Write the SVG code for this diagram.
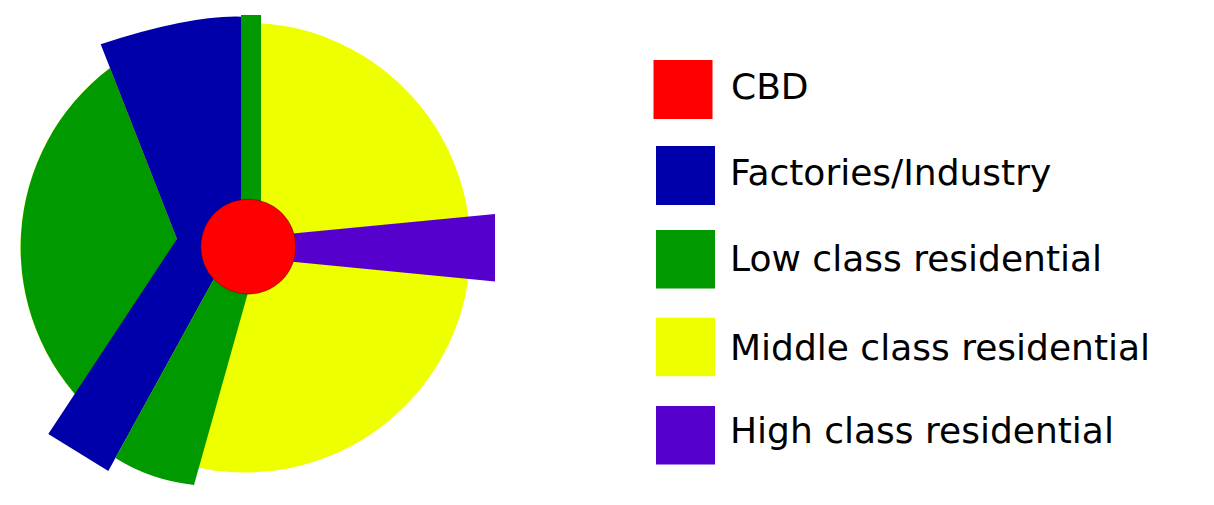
<svg xmlns="http://www.w3.org/2000/svg" width="1214" height="505" viewBox="0 0 1214 505">
  <style>
    .cbd{fill:#ff0000}
    .ind{fill:#0000aa}
    .low{fill:#009a00}
    .mid{fill:#eeff00}
    .high{fill:#5500cc}
    .lbl{font-family:"DejaVu Sans","Liberation Sans",sans-serif;font-size:36px;fill:#000}
  </style>
  <rect x="0" y="0" width="1214" height="505" fill="#ffffff"/>
  <g id="model">
    <circle id="middle-disk" class="mid" cx="245.5" cy="247.5" r="225"/>
    <path id="low-west" class="low" d="M177,239 L110,68 A225,225 0 0 0 90,410 Z"/>
    <path id="industry" class="ind" d="M241.5,16.7 Q190,15 100.7,44.3 L177,239 L48.3,434 L108.3,471 L232,246 L241.5,246 Z"/>
    <path id="low-south" class="low" d="M232,246 L115.4,458 Q150,480 194,485 L254.3,270 Z"/>
    <rect id="low-north" class="low" x="241" y="15" width="20" height="232"/>
    <polygon id="high-east" class="high" points="248,237.8 495,214 495,281.5 248,257.3"/>
    <circle id="cbd" class="cbd" cx="248.3" cy="246.7" r="47.5" stroke="#000" stroke-width="0.6" stroke-opacity="0.5"/>
  </g>
  <g id="connectors"></g>
  <g id="legend">
    <g id="legend-cbd">
      <rect class="cbd" x="653.5" y="60" width="59" height="59"/>
      <text class="lbl" x="731" y="99.3">CBD</text>
    </g>
    <g id="legend-industry">
      <rect class="ind" x="656" y="146" width="59" height="59"/>
      <text class="lbl" x="730" y="185">Factories/Industry</text>
    </g>
    <g id="legend-low">
      <rect class="low" x="656" y="230" width="59" height="58.5"/>
      <text class="lbl" x="730" y="270.7">Low class residential</text>
    </g>
    <g id="legend-middle">
      <rect class="mid" x="656" y="317.7" width="59" height="58.5"/>
      <text class="lbl" x="730" y="360">Middle class residential</text>
    </g>
    <g id="legend-high">
      <rect class="high" x="656" y="406" width="59" height="58.5"/>
      <text class="lbl" x="730" y="442.7">High class residential</text>
    </g>
  </g>
</svg>
